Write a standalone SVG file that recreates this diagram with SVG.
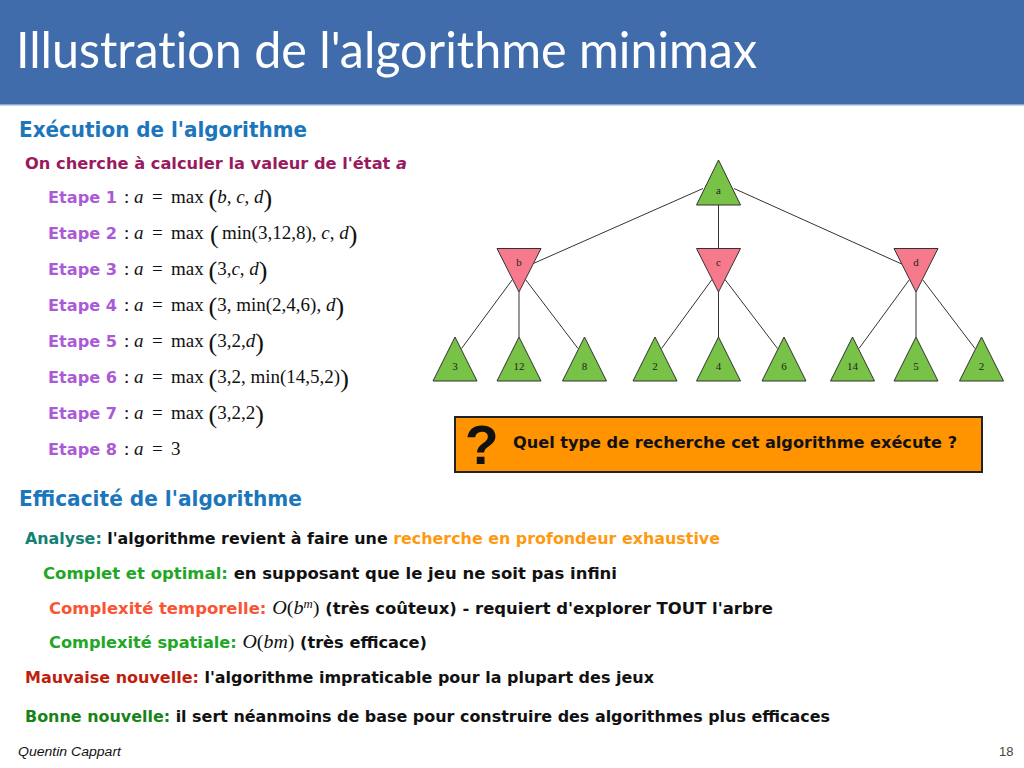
<svg xmlns="http://www.w3.org/2000/svg" width="1024" height="768" viewBox="0 0 1024 768">
  <defs>
    <style>
      .title { font-family: Lato, "Open Sans", "DejaVu Sans", sans-serif; font-weight: normal; font-size: 51px; fill: #ffffff; font-variant-ligatures: none; }
      .h { font-family: "DejaVu Sans", "Liberation Sans", sans-serif; font-weight: bold; font-size: 20.5px; fill: #1b76bc; }
      .b { font-family: "DejaVu Sans", "Liberation Sans", sans-serif; font-weight: bold; font-size: 15.5px; fill: #111111; }
      .step { font-family: "DejaVu Sans", "Liberation Sans", sans-serif; font-weight: bold; font-size: 15.5px; fill: #ab5ad6; }
      .m { font-family: "Liberation Serif", "DejaVu Serif", serif; font-size: 19px; fill: #111111; font-weight: normal; }
      .i { font-style: italic; }
      .p { font-size: 26px; }
      .sup { font-size: 12px; font-style: italic; }
      .lbl { font-family: "Liberation Serif", "DejaVu Serif", serif; font-size: 11px; fill: #222222; text-anchor: middle; }
      .max { fill: #78c247; stroke: #333333; stroke-width: 1; }
      .min { fill: #f67a8b; stroke: #333333; stroke-width: 1; }
      .edge { stroke: #333333; stroke-width: 1; fill: none; }
      .foot { font-family: "Liberation Sans", "DejaVu Sans", sans-serif; font-size: 12px; fill: #111111; }
    </style>
  </defs>

  <!-- page background -->
  <rect x="0" y="0" width="1024" height="768" fill="#ffffff"/>

  <!-- title bar -->
  <rect x="0" y="0" width="1024" height="104.5" fill="#406cac"/>
  <rect x="0" y="104" width="1024" height="1.5" fill="#8ea9d2"/>
  <text class="title" x="16" y="68" textLength="741" lengthAdjust="spacingAndGlyphs">Illustration de l'algorithme minimax</text>

  <!-- section: execution -->
  <text class="h" x="19" y="137" textLength="288" lengthAdjust="spacingAndGlyphs">Exécution de l'algorithme</text>
  <text class="b" x="25" y="169" textLength="382" lengthAdjust="spacingAndGlyphs" style="fill:#991a5e">On cherche à calculer la valeur de l'état <tspan font-style="italic">a</tspan></text>

  <!-- steps -->
  <text class="step" x="48" y="202.5" textLength="69" lengthAdjust="spacingAndGlyphs">Etape 1</text>
  <text class="m" y="202.5"><tspan x="124">:</tspan><tspan x="134" class="i">a</tspan><tspan x="152">=</tspan><tspan x="171">max</tspan><tspan x="208.5" class="p" dy="4">(</tspan><tspan dy="-4" class="i">b</tspan>, <tspan class="i">c</tspan>, <tspan class="i">d</tspan><tspan class="p" dy="4">)</tspan></text>

  <text class="step" x="48" y="238.5" textLength="69" lengthAdjust="spacingAndGlyphs">Etape 2</text>
  <text class="m" y="238.5"><tspan x="124">:</tspan><tspan x="134" class="i">a</tspan><tspan x="152">=</tspan><tspan x="171">max</tspan><tspan x="210" class="p" dy="4">(</tspan><tspan x="222" dy="-4">min(3,12,8), </tspan><tspan class="i">c</tspan>, <tspan class="i">d</tspan><tspan class="p" dy="4">)</tspan></text>

  <text class="step" x="48" y="274.5" textLength="69" lengthAdjust="spacingAndGlyphs">Etape 3</text>
  <text class="m" y="274.5"><tspan x="124">:</tspan><tspan x="134" class="i">a</tspan><tspan x="152">=</tspan><tspan x="171">max</tspan><tspan x="208.5" class="p" dy="4">(</tspan><tspan dy="-4">3,</tspan><tspan class="i">c</tspan>, <tspan class="i">d</tspan><tspan class="p" dy="4">)</tspan></text>

  <text class="step" x="48" y="310.5" textLength="69" lengthAdjust="spacingAndGlyphs">Etape 4</text>
  <text class="m" y="310.5"><tspan x="124">:</tspan><tspan x="134" class="i">a</tspan><tspan x="152">=</tspan><tspan x="171">max</tspan><tspan x="208.5" class="p" dy="4">(</tspan><tspan dy="-4">3, min(2,4,6), </tspan><tspan class="i">d</tspan><tspan class="p" dy="4">)</tspan></text>

  <text class="step" x="48" y="346.5" textLength="69" lengthAdjust="spacingAndGlyphs">Etape 5</text>
  <text class="m" y="346.5"><tspan x="124">:</tspan><tspan x="134" class="i">a</tspan><tspan x="152">=</tspan><tspan x="171">max</tspan><tspan x="208.5" class="p" dy="4">(</tspan><tspan dy="-4">3,2,</tspan><tspan class="i">d</tspan><tspan class="p" dy="4">)</tspan></text>

  <text class="step" x="48" y="382.5" textLength="69" lengthAdjust="spacingAndGlyphs">Etape 6</text>
  <text class="m" y="382.5"><tspan x="124">:</tspan><tspan x="134" class="i">a</tspan><tspan x="152">=</tspan><tspan x="171">max</tspan><tspan x="208.5" class="p" dy="4">(</tspan><tspan dy="-4">3,2, min(14,5,2)</tspan><tspan class="p" dy="4">)</tspan></text>

  <text class="step" x="48" y="418.5" textLength="69" lengthAdjust="spacingAndGlyphs">Etape 7</text>
  <text class="m" y="418.5"><tspan x="124">:</tspan><tspan x="134" class="i">a</tspan><tspan x="152">=</tspan><tspan x="171">max</tspan><tspan x="208.5" class="p" dy="4">(</tspan><tspan dy="-4">3,2,2</tspan><tspan class="p" dy="4">)</tspan></text>

  <text class="step" x="48" y="455" textLength="69" lengthAdjust="spacingAndGlyphs">Etape 8</text>
  <text class="m" y="455"><tspan x="124">:</tspan><tspan x="134" class="i">a</tspan><tspan x="152">=</tspan><tspan x="171">3</tspan></text>

  <!-- minimax tree: connectors -->
  <g id="connectors">
    <line class="edge" x1="703" y1="188.5" x2="533.3" y2="263.5"/>
    <line class="edge" x1="718.5" y1="205" x2="718.5" y2="248"/>
    <line class="edge" x1="734" y1="188.5" x2="901.7" y2="264"/>

    <line class="edge" x1="512.5" y1="279.5" x2="461.5" y2="348.5"/>
    <line class="edge" x1="519" y1="292" x2="519" y2="337"/>
    <line class="edge" x1="525.5" y1="279.5" x2="578" y2="348.5"/>

    <line class="edge" x1="712" y1="279.5" x2="661.5" y2="348.5"/>
    <line class="edge" x1="718.5" y1="292" x2="718.5" y2="337"/>
    <line class="edge" x1="725" y1="279.5" x2="777.5" y2="348.5"/>

    <line class="edge" x1="909.5" y1="279.5" x2="859" y2="348.5"/>
    <line class="edge" x1="916" y1="292" x2="916" y2="337"/>
    <line class="edge" x1="922.5" y1="279.5" x2="975" y2="348.5"/>
  </g>

  <!-- minimax tree: nodes -->
  <g id="node-a">
    <polygon class="max" points="718.5,160 740.5,205 696.5,205"/>
    <text class="lbl" x="718.5" y="193.5">a</text>
  </g>
  <g id="node-b">
    <polygon class="min" points="497,248.5 541,248.5 519,292"/>
    <text class="lbl" x="519" y="265.5">b</text>
  </g>
  <g id="node-c">
    <polygon class="min" points="696.5,248.5 740.5,248.5 718.5,292"/>
    <text class="lbl" x="718.5" y="265.5">c</text>
  </g>
  <g id="node-d">
    <polygon class="min" points="894,248.5 938,248.5 916,292"/>
    <text class="lbl" x="916" y="265.5">d</text>
  </g>

  <g id="leaf-b1">
    <polygon class="max" points="455,337 477,381 433,381"/>
    <text class="lbl" x="455" y="369.5">3</text>
  </g>
  <g id="leaf-b2">
    <polygon class="max" points="519,337 541,381 497,381"/>
    <text class="lbl" x="519" y="369.5">12</text>
  </g>
  <g id="leaf-b3">
    <polygon class="max" points="584.5,337 606.5,381 562.5,381"/>
    <text class="lbl" x="584.5" y="369.5">8</text>
  </g>
  <g id="leaf-c1">
    <polygon class="max" points="655,337 677,381 633,381"/>
    <text class="lbl" x="655" y="369.5">2</text>
  </g>
  <g id="leaf-c2">
    <polygon class="max" points="718.5,337 740.5,381 696.5,381"/>
    <text class="lbl" x="718.5" y="369.5">4</text>
  </g>
  <g id="leaf-c3">
    <polygon class="max" points="784,337 806,381 762,381"/>
    <text class="lbl" x="784" y="369.5">6</text>
  </g>
  <g id="leaf-d1">
    <polygon class="max" points="852.5,337 874.5,381 830.5,381"/>
    <text class="lbl" x="852.5" y="369.5">14</text>
  </g>
  <g id="leaf-d2">
    <polygon class="max" points="916,337 938,381 894,381"/>
    <text class="lbl" x="916" y="369.5">5</text>
  </g>
  <g id="leaf-d3">
    <polygon class="max" points="981.5,337 1003.5,381 959.5,381"/>
    <text class="lbl" x="981.5" y="369.5">2</text>
  </g>

  <!-- question box -->
  <g id="question">
    <rect x="455" y="417" width="527" height="55" fill="#ff9400" stroke="#222222" stroke-width="2"/>
    <text x="465" y="464" style="font-family:'Liberation Sans','DejaVu Sans',sans-serif;font-weight:bold;font-size:55px;fill:#111111">?</text>
    <text class="b" x="513" y="448" textLength="444" lengthAdjust="spacingAndGlyphs">Quel type de recherche cet algorithme exécute ?</text>
  </g>

  <!-- section: efficiency -->
  <text class="h" x="19" y="506" textLength="283" lengthAdjust="spacingAndGlyphs">Efficacité de l'algorithme</text>

  <text class="b" x="25" y="543.5" textLength="695" lengthAdjust="spacingAndGlyphs"><tspan style="fill:#138074">Analyse:</tspan> l'algorithme revient à faire une <tspan style="fill:#ff9912">recherche en profondeur exhaustive</tspan></text>

  <text class="b" x="43" y="579" textLength="574" lengthAdjust="spacingAndGlyphs"><tspan style="fill:#22a626">Complet et optimal:</tspan> en supposant que le jeu ne soit pas infini</text>

  <text class="b" x="49" y="613.5" textLength="724" lengthAdjust="spacingAndGlyphs"><tspan style="fill:#f95535">Complexité temporelle:</tspan> <tspan class="m i">O</tspan><tspan class="m">(</tspan><tspan class="m i">b</tspan><tspan class="sup" dy="-6" style="font-family:'Liberation Serif',serif;font-weight:normal">m</tspan><tspan class="m" dy="6">)</tspan> (très coûteux) - requiert d'explorer TOUT l'arbre</text>

  <text class="b" x="49" y="647.5" textLength="378" lengthAdjust="spacingAndGlyphs"><tspan style="fill:#22a626">Complexité spatiale:</tspan> <tspan class="m i">O</tspan><tspan class="m">(</tspan><tspan class="m i">bm</tspan><tspan class="m">)</tspan> (très efficace)</text>

  <text class="b" x="25" y="683" textLength="629" lengthAdjust="spacingAndGlyphs"><tspan style="fill:#be1e0e">Mauvaise nouvelle:</tspan> l'algorithme impraticable pour la plupart des jeux</text>

  <text class="b" x="25" y="722" textLength="805" lengthAdjust="spacingAndGlyphs"><tspan style="fill:#188418">Bonne nouvelle:</tspan> il sert néanmoins de base pour construire des algorithmes plus efficaces</text>

  <!-- footer -->
  <text class="foot" x="18" y="755.5" font-style="italic" textLength="103" lengthAdjust="spacingAndGlyphs">Quentin Cappart</text>
  <text class="foot" x="999" y="755.5" style="font-size:13px;fill:#444444">18</text>
</svg>
